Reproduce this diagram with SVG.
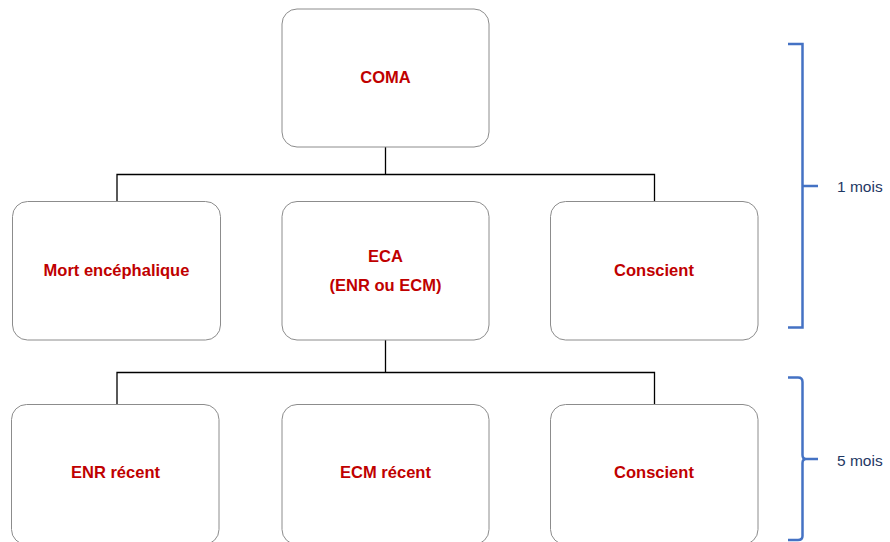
<svg xmlns="http://www.w3.org/2000/svg" width="890" height="542" viewBox="0 0 890 542">
<style>
.box{fill:#ffffff;stroke:#8c8c8c;stroke-width:1}
.lbl{font-family:"Liberation Sans",Arial,sans-serif;font-weight:bold;font-size:16.5px;fill:#c00000;text-anchor:middle}
.conn{fill:none;stroke:#000000;stroke-width:1.3}
.brk{fill:none;stroke:#4472c4;stroke-width:2.5}
.side{font-family:"Liberation Sans",Arial,sans-serif;font-size:15.5px;fill:#1f3864}
</style>
<rect width="890" height="542" fill="#ffffff"/>
<g id="connectors">
<path class="conn" d="M385.5,147 V174.5 M117,201 V174.5 H654.5 V201"/>
<path class="conn" d="M385.5,340 V372.5 M117,404 V372.5 H654.5 V404"/>
</g>
<g id="coma"><rect class="box" x="282" y="9" width="207" height="138" rx="15"/><text class="lbl" x="385.5" y="83">COMA</text></g>
<g id="mort"><rect class="box" x="12.5" y="201.5" width="208" height="138.5" rx="15"/><text class="lbl" x="116.5" y="276">Mort encéphalique</text></g>
<g id="eca"><rect class="box" x="282" y="201.5" width="207" height="138.5" rx="15"/><text class="lbl" x="385.5" y="262">ECA</text><text class="lbl" x="385.5" y="291">(ENR ou ECM)</text></g>
<g id="conscient1"><rect class="box" x="550.5" y="201.5" width="207.5" height="138.5" rx="15"/><text class="lbl" x="654" y="276">Conscient</text></g>
<g id="enr"><rect class="box" x="11.5" y="404.5" width="207.5" height="140" rx="15"/><text class="lbl" x="115.5" y="478">ENR récent</text></g>
<g id="ecm"><rect class="box" x="282" y="404.5" width="207" height="140" rx="15"/><text class="lbl" x="385.5" y="478">ECM récent</text></g>
<g id="conscient2"><rect class="box" x="550.5" y="404.5" width="207.5" height="140" rx="15"/><text class="lbl" x="654" y="478">Conscient</text></g>
<g id="bracket1"><path class="brk" d="M788,44 H802.5 V327.5 H788 M802.5,186 H818"/><text class="side" x="837" y="192">1 mois</text></g>
<g id="bracket2"><path class="brk" d="M788,377.5 H798 Q802.5,377.5 802.5,382 V455 Q802.5,459 806,459 H818 M806,459 Q802.5,459 802.5,463 V536 Q802.5,540 798,540 H788"/><text class="side" x="837" y="466">5 mois</text></g>
</svg>
